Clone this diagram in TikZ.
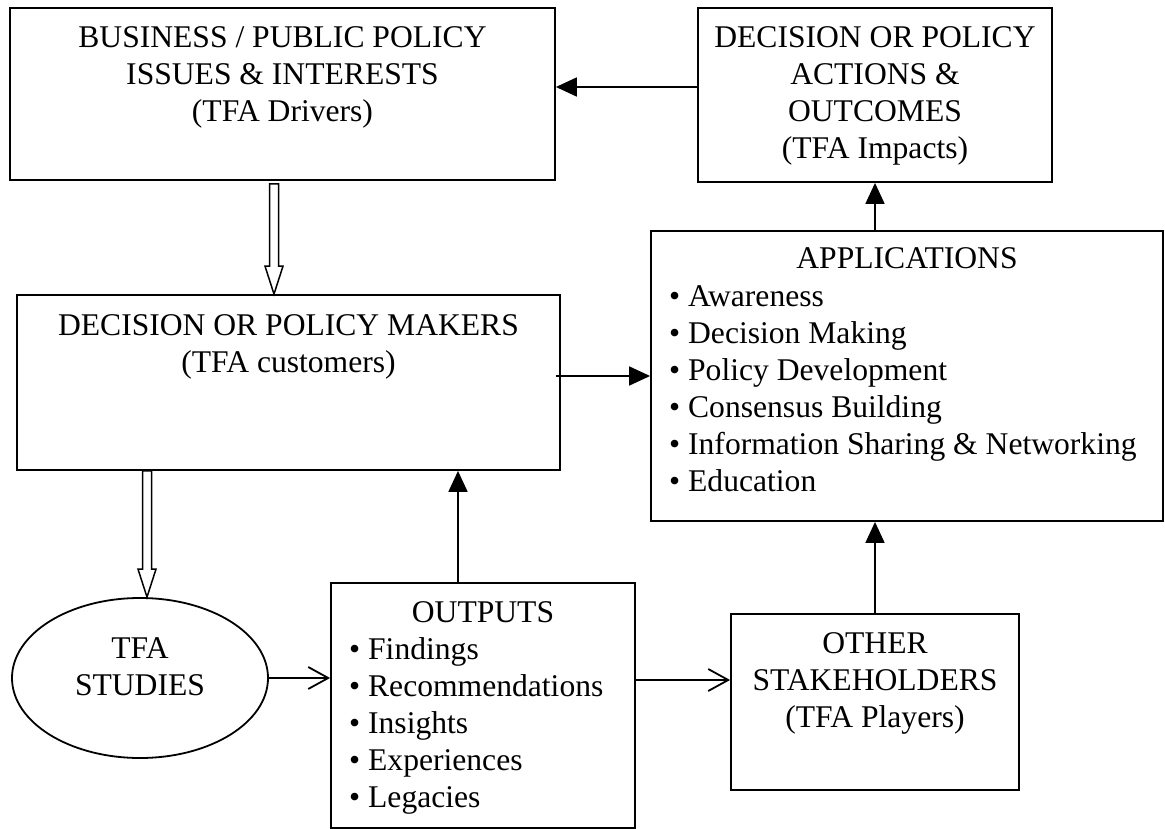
\documentclass[tikz,border=0pt]{standalone}
\usepackage{fontspec}
\setmainfont{Liberation Serif}
\usetikzlibrary{arrows.meta,shapes.geometric,calc}
\tikzset{
  box/.style={draw, line width=1.8pt, rectangle, inner sep=0pt},
  lbl/.style={anchor=base, inner sep=0pt},
  item/.style={anchor=base west, inner sep=0pt},
  fa/.style={line width=1.8pt, -{Triangle[length=21pt,width=19pt]}},
  oa/.style={line width=1.8pt, -{Straight Barb[length=20pt,width=22pt]}},
  hollow/.style={draw, line width=1.5pt, fill=white, line join=miter},
}
\newcommand{\hollowdown}[2]{%
  \draw[hollow] let \p1=(#1), \p2=(#2) in
    (\x1-4.5pt,\y1) -- (\x1+4.5pt,\y1) -- (\x1+4.5pt,\y2+28pt) -- (\x1+9pt,\y2+28pt)
    -- (\x1,\y2) -- (\x1-9pt,\y2+28pt) -- (\x1-4.5pt,\y2+28pt) -- cycle;}
\begin{document}
\begin{tikzpicture}[x=1pt,y=-1pt,every node/.append style={font=\fontsize{31.6}{37}\selectfont}]
\useasboundingbox (0,0) rectangle (1165,829);

% boxes
\node[box, minimum width=545pt, minimum height=172pt] (b1) at (282.5,94) {};
\node[box, minimum width=354pt, minimum height=174pt] (b2) at (875,95) {};
\node[box, minimum width=543pt, minimum height=175pt] (b4) at (288.5,382.5) {};
\node[box, minimum width=512pt, minimum height=290pt] (app) at (907,376) {};
\node[box, minimum width=304pt, minimum height=245pt] (out) at (483,705.5) {};
\node[box, minimum width=288pt, minimum height=176pt] (stk) at (875,702) {};
\node[draw, line width=1.8pt, ellipse, minimum width=256pt, minimum height=160pt, inner sep=0pt] (ell) at (140,678) {};

% texts
\node[lbl] (t1a) at (282.5,48) {BUSINESS / PUBLIC POLICY};
\node[lbl] (t1b) at (282.5,85) {ISSUES \& INTERESTS};
\node[lbl] (t1c) at (282.5,122) {(TFA Drivers)};

\node[lbl] (t2a) at (875,48) {DECISION OR POLICY};
\node[lbl] (t2b) at (875,85) {ACTIONS \&};
\node[lbl] (t2c) at (875,122) {OUTCOMES};
\node[lbl] (t2d) at (875,159) {(TFA Impacts)};

\node[lbl] (t4a) at (288.5,335) {DECISION OR POLICY MAKERS};
\node[lbl] (t4b) at (288.5,372) {(TFA customers)};

\node[lbl] (ta0) at (907,269) {APPLICATIONS};
\node[item] (ta1) at (669,306) {• Awareness};
\node[item] (ta2) at (669,343) {• Decision Making};
\node[item] (ta3) at (669,380) {• Policy Development};
\node[item] (ta4) at (669,417) {• Consensus Building};
\node[item] (ta5) at (669,454) {• Information Sharing \& Networking};
\node[item] (ta6) at (669,491) {• Education};

\node[lbl] (to0) at (483,622) {OUTPUTS};
\node[item] (to1) at (349,659) {• Findings};
\node[item] (to2) at (349,696) {• Recommendations};
\node[item] (to3) at (349,733) {• Insights};
\node[item] (to4) at (349,770) {• Experiences};
\node[item] (to5) at (349,807) {• Legacies};

\node[lbl] (ts1) at (875,653) {OTHER};
\node[lbl] (ts2) at (875,690) {STAKEHOLDERS};
\node[lbl] (ts3) at (875,727) {(TFA Players)};

\node[lbl] (te1) at (140,658) {TFA};
\node[lbl] (te2) at (140,695) {STUDIES};

% connectors
\draw[fa] ([yshift=8pt]b2.west) -- ([yshift=8pt]b2.west -| b1.east);
\draw[fa] (b2.south |- app.north) -- (b2.south);
\draw[fa] ([xshift=-5pt]b4.east |- app.west) -- (app.west);
\draw[fa] (stk.north) -- (stk.north |- app.south);
\draw[fa] ([xshift=-25pt]out.north) -- ([xshift=-25pt]out.north |- b4.south);
\draw[oa] (ell.east) -- (out.west |- ell.east);
\draw[oa] ([yshift=-2pt]out.east |- ell.east) -- ([yshift=-2pt]stk.west |- ell.east);

% hollow arrows
\path (b1.south) ++(-8.5,3) coordinate (h1s);
\coordinate (h1t) at (h1s |- b4.north);
\hollowdown{h1s}{h1t}
\path (ell.north) ++(7,0) coordinate (h2t);
\coordinate (h2s) at (h2t |- b4.south);
\hollowdown{h2s}{h2t}
\end{tikzpicture}
\end{document}
